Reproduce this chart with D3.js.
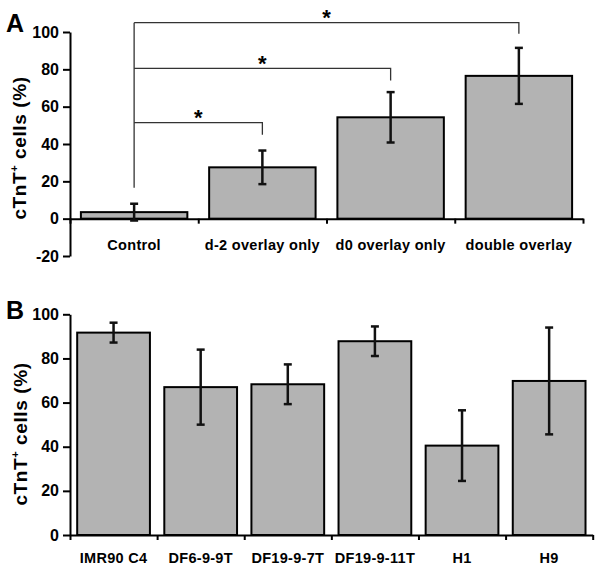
<!DOCTYPE html>
<html>
<head>
<meta charset="utf-8">
<script src="https://cdn.jsdelivr.net/npm/d3@7"></script>
<style>
  body { margin: 0; background: #fff; }
  svg { display: block; font-family: "Liberation Sans", Arial, sans-serif; font-weight: bold; }
</style>
</head>
<body>
<svg id="svg"></svg>
<script>
// panel A
const catsA = ["Control", "d-2 overlay only", "d0 overlay only", "double overlay"];
const meansA = [3.5, 27.5, 54.3, 76.5];
const errA = [4.5, 9, 13.5, 15];
const ticksA = [-20, 0, 20, 40, 60, 80, 100];

// significance brackets from Control to each group
const sigTo = [1, 2, 3];
const sigLevel = [51.5, 80.5, 105];
const sigDrop = [45, 74, 99];
const sigStart = 16.5;

// panel B
const catsB = ["IMR90 C4", "DF6-9-9T", "DF19-9-7T", "DF19-9-11T", "H1", "H9"];
const meansB = [91.7, 67, 68.3, 87.8, 40.5, 69.8];
const errB = [4.5, 17, 9, 6.7, 16, 24.2];
const ticksB = [0, 20, 40, 60, 80, 100];

const width = 601;
const height = 569;

let svg = d3.select("#svg").attr("width", width).attr("height", height);

function drawPanel(opts) {
    let g = svg.append("g");
    let n = opts.cats.length;

    let yScale = d3.scaleLinear()
        .domain(opts.yDomain)
        .range(opts.yRange);

    let xBand = d3.scaleBand()
        .domain(opts.cats)
        .range([opts.x0, opts.x1])
        .paddingInner(opts.pad)
        .paddingOuter(opts.pad / 2);

    // edges between categories, where the excel-style ticks sit
    let xEdge = d3.scaleLinear().domain([0, n]).range([opts.x0, opts.x1]);

    let data = opts.cats.map((c, i) => ({ cat: c, mean: opts.means[i], err: opts.errs[i] }));

    // bars
    g.selectAll(".bar")
        .data(data)
        .enter().append("rect")
        .attr("class", "bar")
        .attr("x", d => xBand(d.cat))
        .attr("width", xBand.bandwidth())
        .attr("y", d => yScale(Math.max(0, d.mean)))
        .attr("height", d => Math.abs(yScale(0) - yScale(d.mean)))
        .attr("fill", "#b3b3b3")
        .attr("stroke", "#000")
        .attr("stroke-width", 2);

    // y axis
    let yAxis = g.append("g")
        .attr("transform", `translate(${opts.x0},0)`)
        .call(d3.axisLeft(yScale).tickValues(opts.ticks).tickFormat(d => String(d))
            .tickSize(7).tickSizeOuter(0).tickPadding(4));
    yAxis.select(".domain").attr("stroke-width", 2);
    yAxis.selectAll(".tick line").attr("stroke-width", 2);
    yAxis.selectAll("text").style("font-size", "16px").attr("fill", "#000");

    // x axis at zero
    let xAxis = g.append("g")
        .attr("transform", `translate(0,${yScale(0)})`)
        .call(d3.axisBottom(xEdge).tickValues(d3.range(n + 1)).tickFormat("").tickSize(5).tickSizeOuter(0));
    xAxis.select(".domain").attr("stroke-width", 2);
    xAxis.selectAll(".tick line").attr("stroke-width", 2);

    // category labels
    let labAxis = g.append("g")
        .attr("transform", `translate(0,${opts.labelY})`)
        .call(d3.axisBottom(xBand).tickSize(0).tickPadding(0));
    labAxis.select(".domain").remove();
    labAxis.selectAll("text")
        .attr("dy", 0)
        .attr("y", 0)
        .style("font-size", "14.5px")
        .style("letter-spacing", "0.3px")
        .attr("fill", "#000");

    // error bars
    let cx = d => xBand(d.cat) + xBand.bandwidth() / 2;
    let eb = g.selectAll(".err").data(data).enter().append("g")
        .attr("class", "err")
        .attr("stroke", "#111")
        .attr("stroke-width", 2.5);
    eb.append("line")
        .attr("x1", cx).attr("x2", cx)
        .attr("y1", d => yScale(d.mean + d.err))
        .attr("y2", d => yScale(d.mean - d.err));
    eb.append("line")
        .attr("x1", d => cx(d) - 4).attr("x2", d => cx(d) + 4)
        .attr("y1", d => yScale(d.mean + d.err))
        .attr("y2", d => yScale(d.mean + d.err));
    eb.append("line")
        .attr("x1", d => cx(d) - 4).attr("x2", d => cx(d) + 4)
        .attr("y1", d => yScale(d.mean - d.err))
        .attr("y2", d => yScale(d.mean - d.err));

    // panel letter
    svg.append("text")
        .attr("x", 6)
        .attr("y", opts.letterY)
        .style("font-size", "25px")
        .text(opts.letter);

    // y axis title
    let t = svg.append("text")
        .attr("transform", `translate(${opts.titleX},${opts.titleY}) rotate(-90)`)
        .attr("text-anchor", "middle")
        .style("font-size", "19px")
        .style("letter-spacing", "0.6px");
    t.append("tspan").text("cTnT");
    t.append("tspan").attr("dy", -8).style("font-size", "11px").text("+");
    t.append("tspan").attr("dy", 8).text(" cells (%)");

    return { g: g, xBand: xBand, yScale: yScale, cx: cx };
}

let A = drawPanel({
    cats: catsA, means: meansA, errs: errA, ticks: ticksA,
    yDomain: [-20, 100], yRange: [256, 32],
    x0: 70, x1: 583, pad: 0.17,
    labelY: 250, letter: "A", letterY: 31.5,
    titleX: 26, titleY: 148
});

// significance brackets
let start = A.xBand(catsA[0]) + A.xBand.bandwidth() / 2;
let br = A.g.append("g").attr("stroke", "#333").attr("stroke-width", 1.3).attr("fill", "none");
br.append("line")
    .attr("x1", start).attr("x2", start)
    .attr("y1", A.yScale(sigStart))
    .attr("y2", A.yScale(d3.max(sigLevel)));
sigTo.forEach((k, i) => {
    let xe = A.xBand(catsA[k]) + A.xBand.bandwidth() / 2;
    br.append("path")
        .attr("d", `M${start},${A.yScale(sigLevel[i])}H${xe}V${A.yScale(sigDrop[i])}`);
    A.g.append("text")
        .attr("x", (start + xe) / 2)
        .attr("y", A.yScale(sigLevel[i]) + 2.5)
        .attr("text-anchor", "middle")
        .style("font-size", "22px")
        .text("*");
});

let B = drawPanel({
    cats: catsB, means: meansB, errs: errB, ticks: ticksB,
    yDomain: [0, 100], yRange: [535, 314.3],
    x0: 70, x1: 592.7, pad: 0.165,
    labelY: 562.5, letter: "B", letterY: 319,
    titleX: 27, titleY: 434
});
</script>
</body>
</html>
